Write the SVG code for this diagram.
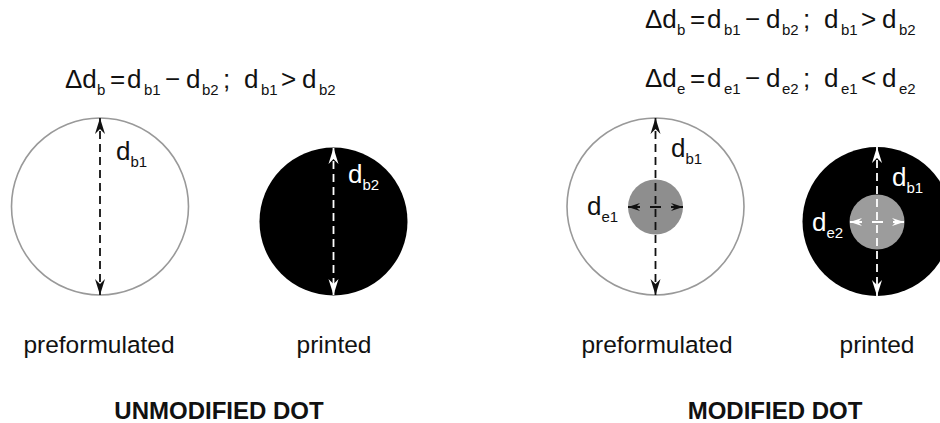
<svg xmlns="http://www.w3.org/2000/svg" width="940" height="423" viewBox="0 0 940 423">
<style>
text{font-family:"Liberation Sans",Arial,sans-serif;fill:#111}
.f{font-size:26px}
.s{font-size:15px}
.w{fill:#fff}
.lbl{font-size:24.5px;text-anchor:middle}
.ttl{font-size:24px;font-weight:bold;text-anchor:middle}
.ring{fill:#fff;stroke:#999;stroke-width:1.6}
.blk{fill:#000}
.dk{stroke:#111;stroke-width:1.8;fill:none}
.wt{stroke:#fff;stroke-width:1.8;fill:none}
.v{stroke-dasharray:8 5}
.h{stroke-dasharray:12 10 11 10 12}
</style>
<defs>
<marker id="ab" viewBox="-17 -6 18 12" refX="0" refY="0" markerWidth="18" markerHeight="12" markerUnits="userSpaceOnUse" orient="auto-start-reverse"><path d="M0,0 L-16,-5 L-11,0 L-16,5 Z" fill="#111"/></marker>
<marker id="aw" viewBox="-17 -6 18 12" refX="0" refY="0" markerWidth="18" markerHeight="12" markerUnits="userSpaceOnUse" orient="auto-start-reverse"><path d="M0,0 L-16,-5 L-11,0 L-16,5 Z" fill="#fff"/></marker>
<marker id="sb" viewBox="-13 -5 14 10" refX="0" refY="0" markerWidth="14" markerHeight="10" markerUnits="userSpaceOnUse" orient="auto-start-reverse"><path d="M0,0 L-12,-4 L-8,0 L-12,4 Z" fill="#111"/></marker>
<marker id="sw" viewBox="-13 -5 14 10" refX="0" refY="0" markerWidth="14" markerHeight="10" markerUnits="userSpaceOnUse" orient="auto-start-reverse"><path d="M0,0 L-12,-4 L-8,0 L-12,4 Z" fill="#fff"/></marker>
</defs>

<g id="formula-left">
<text class="f" y="88"><tspan x="65">Δd</tspan><tspan class="s" x="97" y="95">b</tspan><tspan x="110" y="88">=</tspan><tspan x="127">d</tspan><tspan class="s" x="144" y="95">b1</tspan><tspan x="165" y="88">−</tspan><tspan x="186">d</tspan><tspan class="s" x="202" y="95">b2</tspan><tspan x="223" y="88">;</tspan><tspan x="244">d</tspan><tspan class="s" x="261" y="95">b1</tspan><tspan x="281" y="88">&gt;</tspan><tspan x="302">d</tspan><tspan class="s" x="319" y="95">b2</tspan></text>
</g>
<g id="formula-right-1">
<text class="f" y="28"><tspan x="645">Δd</tspan><tspan class="s" x="677" y="35">b</tspan><tspan x="690" y="28">=</tspan><tspan x="707">d</tspan><tspan class="s" x="724" y="35">b1</tspan><tspan x="745" y="28">−</tspan><tspan x="766">d</tspan><tspan class="s" x="782" y="35">b2</tspan><tspan x="803" y="28">;</tspan><tspan x="824">d</tspan><tspan class="s" x="841" y="35">b1</tspan><tspan x="861" y="28">&gt;</tspan><tspan x="882">d</tspan><tspan class="s" x="899" y="35">b2</tspan></text>
</g>
<g id="formula-right-2">
<text class="f" y="87"><tspan x="645">Δd</tspan><tspan class="s" x="677" y="94">e</tspan><tspan x="690" y="87">=</tspan><tspan x="707">d</tspan><tspan class="s" x="724" y="94">e1</tspan><tspan x="745" y="87">−</tspan><tspan x="766">d</tspan><tspan class="s" x="782" y="94">e2</tspan><tspan x="803" y="87">;</tspan><tspan x="824">d</tspan><tspan class="s" x="841" y="94">e1</tspan><tspan x="861" y="87">&lt;</tspan><tspan x="882">d</tspan><tspan class="s" x="899" y="94">e2</tspan></text>
</g>

<g id="dot-unmod-pre">
<circle class="ring" cx="100" cy="206.5" r="88.5"/>
<text class="f" x="116" y="160">d<tspan class="s" dy="7">b1</tspan></text>
</g>
<g id="dot-unmod-printed">
<circle class="blk" cx="333.5" cy="221.5" r="74"/>
<text class="f w" x="348" y="183">d<tspan class="s w" dy="7">b2</tspan></text>
</g>
<g id="dot-mod-pre">
<circle class="ring" cx="655.5" cy="206.5" r="88.5"/>
<circle cx="655.5" cy="207" r="27.5" fill="#8e8e8e"/>
<text class="f" x="671" y="157">d<tspan class="s" dy="7">b1</tspan></text>
<text class="f" x="587" y="215">d<tspan class="s" dy="7">e1</tspan></text>
</g>
<g id="dot-mod-printed">
<circle class="blk" cx="877" cy="221.5" r="74.5"/>
<circle cx="877" cy="222" r="27.5" fill="#9c9c9c"/>
<text class="f w" x="892" y="186">d<tspan class="s w" dy="7">b1</tspan></text>
<text class="f w" x="812" y="231">d<tspan class="s w" dy="7">e2</tspan></text>
</g>

<g id="connectors">
<line class="dk v" x1="100" y1="118" x2="100" y2="295" marker-start="url(#ab)" marker-end="url(#ab)"/>
<line class="wt v" x1="333.5" y1="148" x2="333.5" y2="295" marker-start="url(#aw)" marker-end="url(#aw)"/>
<line class="dk v" x1="655.5" y1="118" x2="655.5" y2="295" marker-start="url(#ab)" marker-end="url(#ab)"/>
<line class="dk h" x1="628" y1="207" x2="683" y2="207" marker-start="url(#sb)" marker-end="url(#sb)"/>
<line class="wt v" x1="877" y1="147" x2="877" y2="296" marker-start="url(#aw)" marker-end="url(#aw)"/>
<line class="wt h" x1="850" y1="222" x2="904" y2="222" marker-start="url(#sw)" marker-end="url(#sw)"/>
</g>

<g id="labels">
<text class="lbl" x="99" y="353">preformulated</text>
<text class="lbl" x="334" y="353">printed</text>
<text class="ttl" x="219" y="419">UNMODIFIED DOT</text>
<text class="lbl" x="657" y="353">preformulated</text>
<text class="lbl" x="877" y="353">printed</text>
<text class="ttl" x="775" y="419">MODIFIED DOT</text>
</g>
</svg>
